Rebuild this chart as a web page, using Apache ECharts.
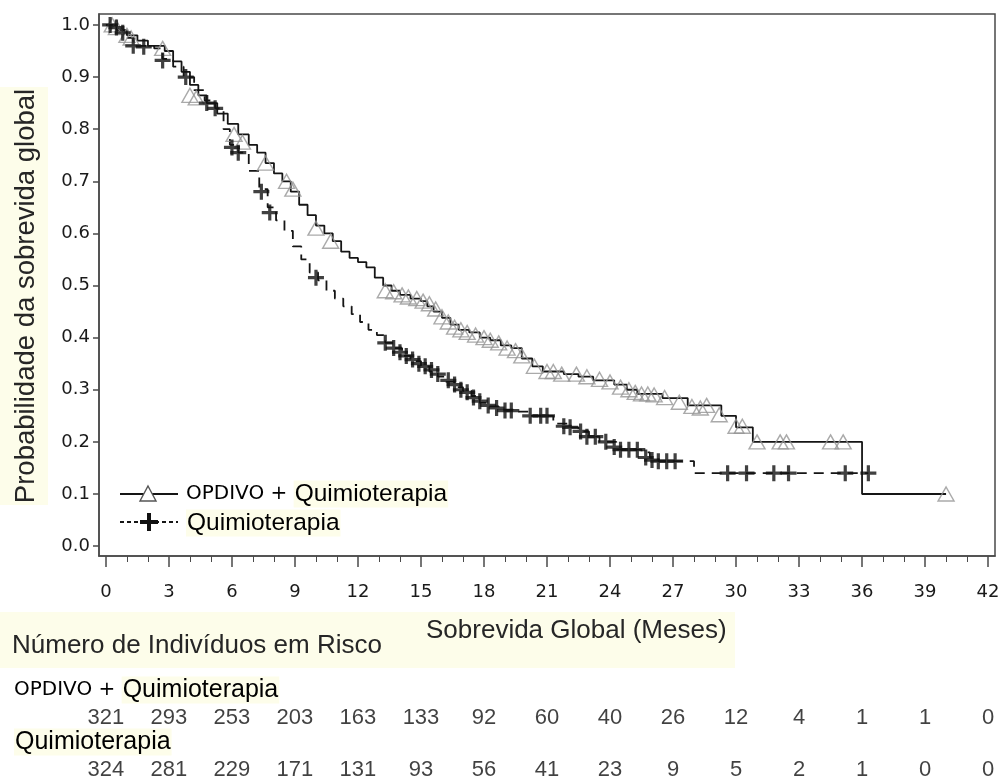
<!DOCTYPE html>
<html><head><meta charset="utf-8">
<script src="https://cdn.jsdelivr.net/npm/echarts@6/dist/echarts.min.js"></script>
<style>html,body{margin:0;padding:0;background:#fff}#c{width:1003px;height:782px}</style>
</head><body><div id="c"></div>
<script>
// ---- data ----
const xTicks = [0,3,6,9,12,15,18,21,24,27,30,33,36,39,42];
const xMinorTicks = [1,2,4,5,7,8,10,11,13,14,16,17,19,20,22,23,25,26,28,29,31,32,34,35,37,38,40,41];
const yTicks = [0,0.1,0.2,0.3,0.4,0.5,0.6,0.7,0.8,0.9,1.0];

const opdivoTimes = [0,0.5,1.0,1.5,2.0,2.8,3.2,3.6,4.0,4.4,4.8,5.3,5.8,6.3,6.8,7.2,7.6,8.0,8.4,8.8,9.2,9.6,10.0,10.4,10.8,11.2,11.6,12.0,12.4,12.8,13.2,13.6,14.0,14.5,15.0,15.3,15.6,16.0,16.4,16.8,17.3,17.8,18.3,18.8,19.3,19.8,20.3,20.8,21.8,22.5,23.2,24.2,24.8,25.3,26.5,27.7,29.3,30.0,30.8,36.0,40.0];
const opdivoSurv  = [1.0,0.99,0.98,0.97,0.96,0.95,0.93,0.91,0.885,0.865,0.85,0.83,0.81,0.79,0.77,0.755,0.735,0.715,0.70,0.68,0.655,0.635,0.615,0.60,0.585,0.565,0.553,0.545,0.535,0.515,0.50,0.49,0.482,0.475,0.47,0.46,0.45,0.438,0.425,0.415,0.41,0.40,0.395,0.385,0.38,0.36,0.345,0.335,0.33,0.325,0.318,0.31,0.30,0.292,0.284,0.27,0.25,0.228,0.20,0.10,0.10];
const opdivoCensTimes = [0.3,0.5,1.0,1.2,2.7,4.0,4.3,6.1,6.5,7.6,8.6,8.9,10.0,10.7,13.3,13.7,14.1,14.4,14.8,15.1,15.4,15.7,16.0,16.3,16.6,16.9,17.2,17.6,18.0,18.3,18.7,19.1,19.5,19.8,20.4,21.0,21.3,21.7,22.4,22.9,23.5,24.0,24.5,24.9,25.2,25.5,25.8,26.1,26.6,27.3,27.9,28.3,28.6,29.2,30.0,30.3,31.0,32.1,32.4,34.5,35.1,40.0];
const opdivoCensSurv  = [1.0,0.995,0.98,0.975,0.955,0.865,0.86,0.79,0.775,0.735,0.70,0.685,0.61,0.585,0.49,0.488,0.482,0.478,0.475,0.47,0.465,0.455,0.44,0.43,0.42,0.415,0.41,0.405,0.40,0.395,0.39,0.38,0.375,0.365,0.345,0.335,0.335,0.33,0.33,0.325,0.32,0.315,0.305,0.30,0.295,0.292,0.292,0.29,0.285,0.276,0.268,0.265,0.27,0.252,0.23,0.23,0.20,0.20,0.20,0.20,0.20,0.10];

const chemoTimes = [0,0.5,0.9,1.3,2.3,2.7,3.2,3.7,4.2,4.7,5.2,5.6,5.9,6.3,6.8,7.3,7.7,8.1,8.5,8.9,9.3,9.7,10.1,10.5,10.9,11.3,11.7,12.1,12.5,12.9,13.3,13.7,14.1,14.5,15.0,15.4,15.8,16.2,16.6,17.0,17.4,17.8,18.2,18.7,19.5,20.2,21.3,22.0,22.5,23.0,23.5,24.3,25.5,25.9,26.3,28.0,36.3];
const chemoSurv  = [1.0,0.99,0.975,0.96,0.955,0.935,0.92,0.90,0.875,0.855,0.84,0.80,0.77,0.755,0.72,0.685,0.65,0.625,0.605,0.575,0.55,0.525,0.51,0.49,0.475,0.46,0.445,0.43,0.415,0.405,0.39,0.38,0.365,0.355,0.345,0.335,0.325,0.315,0.305,0.298,0.288,0.275,0.268,0.262,0.258,0.25,0.235,0.228,0.22,0.21,0.20,0.185,0.18,0.17,0.163,0.14,0.14];
const chemoCensTimes = [0.2,0.5,0.8,1.3,1.8,2.7,3.8,4.8,5.2,6.0,6.3,7.4,7.8,10.0,13.3,13.7,14.0,14.3,14.6,14.9,15.2,15.5,15.8,16.3,16.6,16.9,17.2,17.5,17.8,18.2,18.6,19.0,19.3,20.2,20.7,21.0,21.8,22.1,22.6,22.9,23.3,23.8,24.2,24.5,24.9,25.3,25.7,26.0,26.3,26.7,27.1,29.6,30.5,31.8,32.5,35.2,36.3];
const chemoCensSurv  = [1.0,0.995,0.985,0.96,0.958,0.932,0.90,0.85,0.84,0.765,0.755,0.68,0.64,0.515,0.39,0.38,0.372,0.365,0.358,0.35,0.345,0.338,0.33,0.318,0.31,0.30,0.295,0.285,0.278,0.27,0.265,0.26,0.26,0.25,0.25,0.25,0.23,0.228,0.22,0.21,0.21,0.20,0.19,0.185,0.185,0.185,0.17,0.165,0.163,0.163,0.163,0.14,0.14,0.14,0.14,0.14,0.14];

const riskTimes  = [0,3,6,9,12,15,18,21,24,27,30,33,36,39,42];
const riskOpdivo = [321,293,253,203,163,133,92,60,40,26,12,4,1,1,0];
const riskChemo  = [324,281,229,171,131,93,56,41,23,9,5,2,1,0,0];

const labelOpdivo = 'OPDIVO + ';
const labelChemo = 'Quimioterapia';
const yTitle = 'Probabilidade da sobrevida global';
const xTitle = 'Sobrevida Global (Meses)';
const riskTitle = 'Número de Indivíduos em Risco';

// ---- build ----
const zip = (a, b) => a.map((v, i) => [v, b[i]]);
const XMIN = -0.33, XMAX = 42.33;
const YMIN = -0.019, YMAX = 1.021;
const AX = '#4a4a4a';
const TXT = '#1a1a1a';
const YEL = '#fdfdea';
const PLUS = 'path://M4,0H6V4H10V6H6V10H4V6H0V4H4Z';
const sans = '"Liberation Sans", Arial, sans-serif';
const wide = '"DejaVu Sans", sans-serif';

const chart = echarts.init(document.getElementById('c'), null, {renderer: 'canvas'});
const option = {
  animation: false,
  backgroundColor: '#fff',
  grid: [
    {left: 99, right: 8, top: 14, bottom: 226, show: true, borderColor: AX, borderWidth: 1.5, backgroundColor: 'transparent'},
    {left: 99, right: 8, top: 700, bottom: 0, show: false}
  ],
  xAxis: [
    {type: 'value', gridIndex: 0, min: XMIN, max: XMAX, position: 'bottom',
     axisLine: {show: true, onZero: false, lineStyle: {color: AX, width: 1.5}},
     axisTick: {show: true, customValues: xTicks, length: 11, lineStyle: {color: AX, width: 1.5}},
     axisLabel: {show: true, customValues: xTicks, margin: 27, fontFamily: wide, fontSize: 18, color: TXT},
     splitLine: {show: false}},
    {type: 'value', gridIndex: 0, min: XMIN, max: XMAX, position: 'bottom',
     axisLine: {show: false, onZero: false},
     axisTick: {show: true, customValues: xMinorTicks, length: 6, lineStyle: {color: AX, width: 1}},
     axisLabel: {show: false}, splitLine: {show: false}},
    {type: 'value', gridIndex: 1, min: XMIN, max: XMAX, show: false}
  ],
  yAxis: [
    {type: 'value', gridIndex: 0, min: YMIN, max: YMAX,
     axisLine: {show: true, onZero: false, lineStyle: {color: AX, width: 1.5}},
     axisTick: {show: true, customValues: yTicks, length: 6, lineStyle: {color: AX, width: 1.5}},
     axisLabel: {show: true, customValues: yTicks, margin: 9, formatter: v => v.toFixed(1), fontFamily: wide, fontSize: 18, color: TXT},
     splitLine: {show: false}},
    {type: 'value', gridIndex: 1, min: 0, max: 1, show: false}
  ],
  series: [
    {type: 'line', name: 'OPDIVO', xAxisIndex: 0, yAxisIndex: 0, step: 'end', data: zip(opdivoTimes, opdivoSurv),
     symbol: 'none', lineStyle: {color: '#151515', width: 1.8}, z: 3},
    {type: 'line', name: 'Quimio', xAxisIndex: 0, yAxisIndex: 0, step: 'end', data: zip(chemoTimes, chemoSurv),
     symbol: 'none', lineStyle: {color: '#151515', width: 1.8, type: [10, 7]}, z: 3},
    {type: 'scatter', xAxisIndex: 0, yAxisIndex: 0, data: zip(opdivoCensTimes, opdivoCensSurv),
     symbol: 'triangle', symbolSize: [16, 14],
     itemStyle: {color: 'rgba(255,255,255,0)', borderColor: '#959595', borderWidth: 1.4}, z: 4, silent: true},
    {type: 'scatter', xAxisIndex: 0, yAxisIndex: 0, data: zip(chemoCensTimes, chemoCensSurv),
     symbol: PLUS, symbolSize: 16, itemStyle: {color: '#111'}, z: 5, silent: true},
    {type: 'scatter', xAxisIndex: 2, yAxisIndex: 1, data: riskTimes.map((t, i) => [t, 0.78, riskOpdivo[i]]),
     symbolSize: 1, itemStyle: {color: 'rgba(0,0,0,0)'}, silent: true,
     label: {show: true, position: 'inside', formatter: p => String(p.value[2]), fontFamily: sans, fontSize: 22, color: '#111'}},
    {type: 'scatter', xAxisIndex: 2, yAxisIndex: 1, data: riskTimes.map((t, i) => [t, 0.146, riskChemo[i]]),
     symbolSize: 1, itemStyle: {color: 'rgba(0,0,0,0)'}, silent: true,
     label: {show: true, position: 'inside', formatter: p => String(p.value[2]), fontFamily: sans, fontSize: 22, color: '#111'}}
  ],
  graphic: [
    // y-axis title
    {type: 'rect', left: 0, top: 87, shape: {width: 48, height: 418}, style: {fill: YEL}, silent: true},
    {type: 'text', x: 26, y: 296, rotation: Math.PI / 2, silent: true,
     style: {text: yTitle, fontFamily: sans, fontSize: 27.5, fill: '#262626', align: 'center', verticalAlign: 'middle'}},
    // bottom titles
    {type: 'rect', left: 0, top: 612, shape: {width: 735, height: 56}, style: {fill: YEL}, silent: true},
    {type: 'text', x: 12, y: 646, silent: true,
     style: {text: riskTitle, fontFamily: sans, fontSize: 26, fill: '#262626', verticalAlign: 'middle'}},
    {type: 'text', x: 426, y: 631, silent: true,
     style: {text: xTitle, fontFamily: sans, fontSize: 26, fill: '#262626', verticalAlign: 'middle'}},
    // risk table row labels
    {type: 'text', x: 14, y: 690, silent: true,
     style: {text: '{a|' + labelOpdivo + '}{b|' + labelChemo + '}', verticalAlign: 'middle',
       rich: {a: {fontFamily: wide, fontSize: 20, color: TXT},
              b: {fontFamily: sans, fontSize: 25, color: '#2b2b1f', backgroundColor: YEL, padding: [1, 1]}}}},
    {type: 'text', x: 14, y: 742, silent: true,
     style: {text: '{b|' + labelChemo + '}', verticalAlign: 'middle',
       rich: {b: {fontFamily: sans, fontSize: 25, color: '#2b2b1f', backgroundColor: YEL, padding: [1, 1]}}}},
    // legend
    {type: 'line', silent: true, shape: {x1: 120, y1: 494, x2: 178, y2: 494}, style: {stroke: '#151515', lineWidth: 1.8}},
    {type: 'polygon', silent: true, shape: {points: [[148, 486], [156, 501], [140, 501]]}, style: {fill: '#fff', stroke: '#555', lineWidth: 1.4}},
    {type: 'text', x: 186, y: 494, silent: true,
     style: {text: '{a|' + labelOpdivo + '}{b|' + labelChemo + '}', verticalAlign: 'middle',
       rich: {a: {fontFamily: wide, fontSize: 20, color: TXT},
              b: {fontFamily: sans, fontSize: 24.5, color: '#2b2b1f', backgroundColor: YEL, padding: [1, 1]}}}},
    {type: 'line', silent: true, shape: {x1: 120, y1: 522, x2: 178, y2: 522}, style: {stroke: '#151515', lineWidth: 1.8, lineDash: [4, 3]}},
    {type: 'polygon', silent: true, shape: {points: [[147, 513], [151, 513], [151, 520], [158, 520], [158, 524], [151, 524], [151, 531], [147, 531], [147, 524], [140, 524], [140, 520], [147, 520]]}, style: {fill: '#111'}},
    {type: 'text', x: 186, y: 523, silent: true,
     style: {text: '{b|' + labelChemo + '}', verticalAlign: 'middle',
       rich: {b: {fontFamily: sans, fontSize: 24.5, color: '#2b2b1f', backgroundColor: YEL, padding: [1, 1]}}}}
  ]
};
chart.setOption(option);
</script></body></html>
